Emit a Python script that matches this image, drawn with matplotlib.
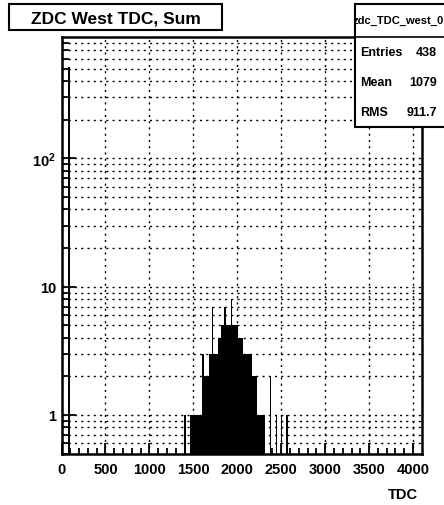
import numpy as np
import matplotlib
matplotlib.use("Agg")
import matplotlib.pyplot as plt
from matplotlib.patches import Rectangle
from matplotlib.ticker import FixedLocator, MultipleLocator, FuncFormatter

plt.rcParams['font.family'] = ['Liberation Sans', 'DejaVu Sans']
plt.rcParams['font.weight'] = 'bold'
plt.rcParams['mathtext.fontset'] = 'custom'
plt.rcParams['mathtext.rm'] = 'Liberation Sans:bold'
plt.rcParams['mathtext.bf'] = 'Liberation Sans:bold'
plt.rcParams['mathtext.it'] = 'Liberation Sans:bold'

# histogram (variable bin edges in TDC counts)
bin_edges = [70, 96, 1398, 1412, 1462, 1595, 1603, 1617, 1625, 1681, 1708,
             1722, 1784, 1811, 1853, 1867, 1928, 1942, 2011, 2061, 2163,
             2228, 2320, 2373, 2387, 2437, 2451, 2498, 2512, 2558, 2572]
bin_counts = [520, 0, 1, 0, 1, 2, 3, 2, 2, 3,
              7, 3, 4, 5, 7, 5, 8, 5, 4, 3,
              2, 1, 0, 2, 0, 1, 0, 1, 0, 1]

hist_name = "zdc_TDC_west_0"
stat_names = ["Entries", "Mean", "RMS"]
stat_values = ["438", "1079", "911.7"]
title = "ZDC West TDC, Sum"
x_label = "TDC"

W, H = 444, 506
fig = plt.figure(figsize=(W / 100, H / 100), dpi=100)
ax = fig.add_axes([61.5 / W, 1 - 454.5 / H, 360 / W, 416.2 / H])

ax.stairs(bin_counts, bin_edges, fill=True, color='black', linewidth=1.3,
          baseline=0.5, zorder=3)

ax.set_xlim(0, 4096)
ax.set_yscale('log')
ax.set_ylim(0.5, 881)

ax.xaxis.set_major_locator(MultipleLocator(500))
ax.xaxis.set_minor_locator(MultipleLocator(100))
ax.yaxis.set_major_locator(FixedLocator([1, 10, 100]))
minor_y = [m * 10.0 ** e for e in (-1, 0, 1, 2) for m in range(2, 10)]
ax.yaxis.set_minor_locator(FixedLocator(minor_y))
ax.yaxis.set_minor_formatter(FuncFormatter(lambda v, p: ""))


def ylab(v, pos):
    if abs(v - 1) < 1e-9:
        return "1"
    if abs(v - 10) < 1e-9:
        return "10"
    return r"$10^{%d}$" % round(np.log10(v))


ax.yaxis.set_major_formatter(FuncFormatter(ylab))

ax.tick_params(axis='both', which='both', direction='in', top=False,
               right=False, colors='black', width=1.3)
ax.tick_params(axis='x', which='major', length=8, labelsize=10.5, pad=6)
ax.tick_params(axis='x', which='minor', length=4)
ax.tick_params(axis='y', which='major', length=10, labelsize=10.5, pad=4)
ax.tick_params(axis='y', which='minor', length=5)
for lab in ax.get_xticklabels() + ax.get_yticklabels():
    lab.set_fontweight('bold')

dots = (0, (1.5, 3))
ax.grid(True, axis='x', which='major', color='black', linestyle=dots,
        linewidth=1.0, zorder=1)
ax.grid(True, axis='y', which='both', color='black', linestyle=dots,
        linewidth=1.0, zorder=1)
ax.set_axisbelow(True)
for sp in ax.spines.values():
    sp.set_linewidth(1.8)
    sp.set_zorder(5)

fig.text(418 / W, 1 - 495 / H, x_label, ha='right', va='center',
         fontsize=10.5, fontweight='bold')

# title box
tb = Rectangle((9 / W, 1 - 31 / H), 213 / W, 26 / H, transform=fig.transFigure,
               facecolor='white', edgecolor='black', linewidth=1.5, zorder=10)
fig.patches.append(tb)
fig.text(115.5 / W, 1 - 18.5 / H, title, ha='center', va='center',
         fontsize=12.5, fontweight='bold', zorder=11)

# stats box
sb = Rectangle((355 / W, 1 - 128 / H), 110 / W, 123 / H,
               transform=fig.transFigure, facecolor='white',
               edgecolor='black', linewidth=1.5, zorder=10)
fig.patches.append(sb)
fig.add_artist(plt.Line2D([355 / W, 1.05], [1 - 38.3 / H] * 2,
                          transform=fig.transFigure, color='black',
                          linewidth=1.2, zorder=11))
nt = fig.text(398 / W, 1 - 21 / H, hist_name, ha='center', va='center',
              fontsize=8, fontweight='bold', zorder=11)
nt.set_clip_path(sb)
for i, (nm, val) in enumerate(zip(stat_names, stat_values)):
    yy = 1 - (53.5 + 30 * i) / H
    fig.text(360 / W, yy, nm, ha='left', va='center', fontsize=9,
             fontweight='bold', zorder=11)
    fig.text(437 / W, yy, val, ha='right', va='center', fontsize=9,
             fontweight='bold', zorder=11)

fig.savefig("out.png", dpi=100)
